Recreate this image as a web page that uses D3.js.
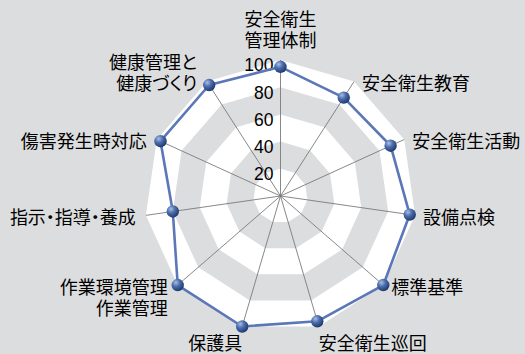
<!DOCTYPE html>
<html>
<head>
<meta charset="utf-8">
<script src="https://cdn.jsdelivr.net/npm/d3@7"></script>
<style>
  html, body { margin: 0; padding: 0; background: #dcdddf; }
  svg { display: block; }
  .cat { font-family: "Noto Sans CJK JP", sans-serif; font-size: 18px; fill: #000; font-feature-settings: "palt"; }
  .tick { font-family: "Liberation Sans", Arial, sans-serif; font-size: 17.5px; fill: #000; }
</style>
</head>
<body>
<svg></svg>
<script>
//Chart data
var categories = [
    ['安全衛生', '管理体制'],
    ['安全衛生教育'],
    ['安全衛生活動'],
    ['設備点検'],
    ['標準基準'],
    ['安全衛生巡回'],
    ['保護具'],
    ['作業環境管理', '作業管理'],
    ['指示・指導・養成'],
    ['傷害発生時対応'],
    ['健康管理と', '健康づくり']
];
var values = [95, 86, 89, 96, 100, 96, 100, 100, 80, 97, 97];
var tickValues = [20, 40, 60, 80, 100];
var bandLevels = [20, 40, 60, 80, 100];

//General setup
var width = 525;
var height = 354;
var cx = 280.5;
var cy = 196;
var svg = d3.select('svg').attr('width', width).attr('height', height);

var rScale = d3.scaleLinear().domain([0, 100]).range([0, 136]);
var angle = d3.scaleLinear().domain([0, categories.length]).range([0, 2 * Math.PI]);

function px(i, v) { return cx + rScale(v) * Math.sin(angle(i)); }
function py(i, v) { return cy - rScale(v) * Math.cos(angle(i)); }

var defs = svg.append('defs');
var grad = defs.append('radialGradient').attr('id', 'ball')
    .attr('cx', '35%').attr('cy', '30%').attr('r', '70%');
grad.append('stop').attr('offset', '0%').attr('stop-color', '#a9bde3');
grad.append('stop').attr('offset', '45%').attr('stop-color', '#4d6fae');
grad.append('stop').attr('offset', '100%').attr('stop-color', '#1f3a6e');

var chart = svg.append('g');

//Bands, outer first
var bandLine = d3.lineRadial().curve(d3.curveLinearClosed)
    .angle((d, i) => angle(i)).radius(d => rScale(d));
chart.selectAll('.band')
    .data(bandLevels.slice().reverse())
  .enter().append('path')
    .classed('band', true)
    .attr('transform', `translate(${cx}, ${cy})`)
    .attr('d', lv => bandLine(categories.map(() => lv)))
    .attr('fill', (lv, i) => i % 2 === 0 ? '#ffffff' : '#dcdddf');

//Spokes
chart.selectAll('.spoke')
    .data(categories)
  .enter().append('line')
    .classed('spoke', true)
    .attr('x1', cx).attr('y1', cy)
    .attr('x2', (d, i) => px(i, 100))
    .attr('y2', (d, i) => py(i, 100))
    .attr('stroke', '#7a7a7a')
    .attr('stroke-width', 0.9);

//Tick labels
chart.selectAll('.tick')
    .data(tickValues)
  .enter().append('text')
    .classed('tick', true)
    .attr('x', cx - 7)
    .attr('y', d => cy - rScale(d) + 5)
    .attr('dy', '0.36em')
    .attr('text-anchor', 'end')
    .text(d => d);

//Series line
var seriesLine = d3.lineRadial().curve(d3.curveLinearClosed)
    .angle((d, i) => angle(i)).radius(d => rScale(d));
chart.append('path')
    .attr('transform', `translate(${cx}, ${cy})`)
    .attr('d', seriesLine(values))
    .attr('fill', 'none')
    .attr('stroke', '#5b77b7')
    .attr('stroke-width', 2.6)
    .attr('stroke-linejoin', 'round');

chart.selectAll('.dot')
    .data(values)
  .enter().append('circle')
    .classed('dot', true)
    .attr('cx', (d, i) => px(i, d))
    .attr('cy', (d, i) => py(i, d))
    .attr('r', 6.2)
    .attr('fill', 'url(#ball)');

//Category labels
var lineGap = 21.5;
categories.forEach((lines, i) => {
    var a = angle(i);
    var s = Math.sin(a), c = Math.cos(a);
    var x = px(i, 100), y = py(i, 100);
    var anchor, dx = 0, dy = 0, up;
    if (Math.abs(s) < 0.2 && c > 0) {
        anchor = 'middle'; dy = -19; up = true;
    } else if (c < -0.9) {
        anchor = s > 0 ? 'start' : 'end'; dy = 17; up = false;
    } else {
        anchor = s > 0 ? 'start' : 'end';
        dx = s > 0 ? 8 : -10;
        dy = 2;
        up = c > 0;
    }
    var t = chart.append('text').classed('cat', true)
        .attr('text-anchor', anchor);
    lines.forEach((ln, k) => {
        var off = up ? (k - (lines.length - 1)) * lineGap : k * lineGap;
        t.append('tspan')
            .attr('x', x + dx)
            .attr('y', y + dy + off)
            .attr('dy', '0.36em')
            .text(ln);
    });
});
</script>
</body>
</html>
